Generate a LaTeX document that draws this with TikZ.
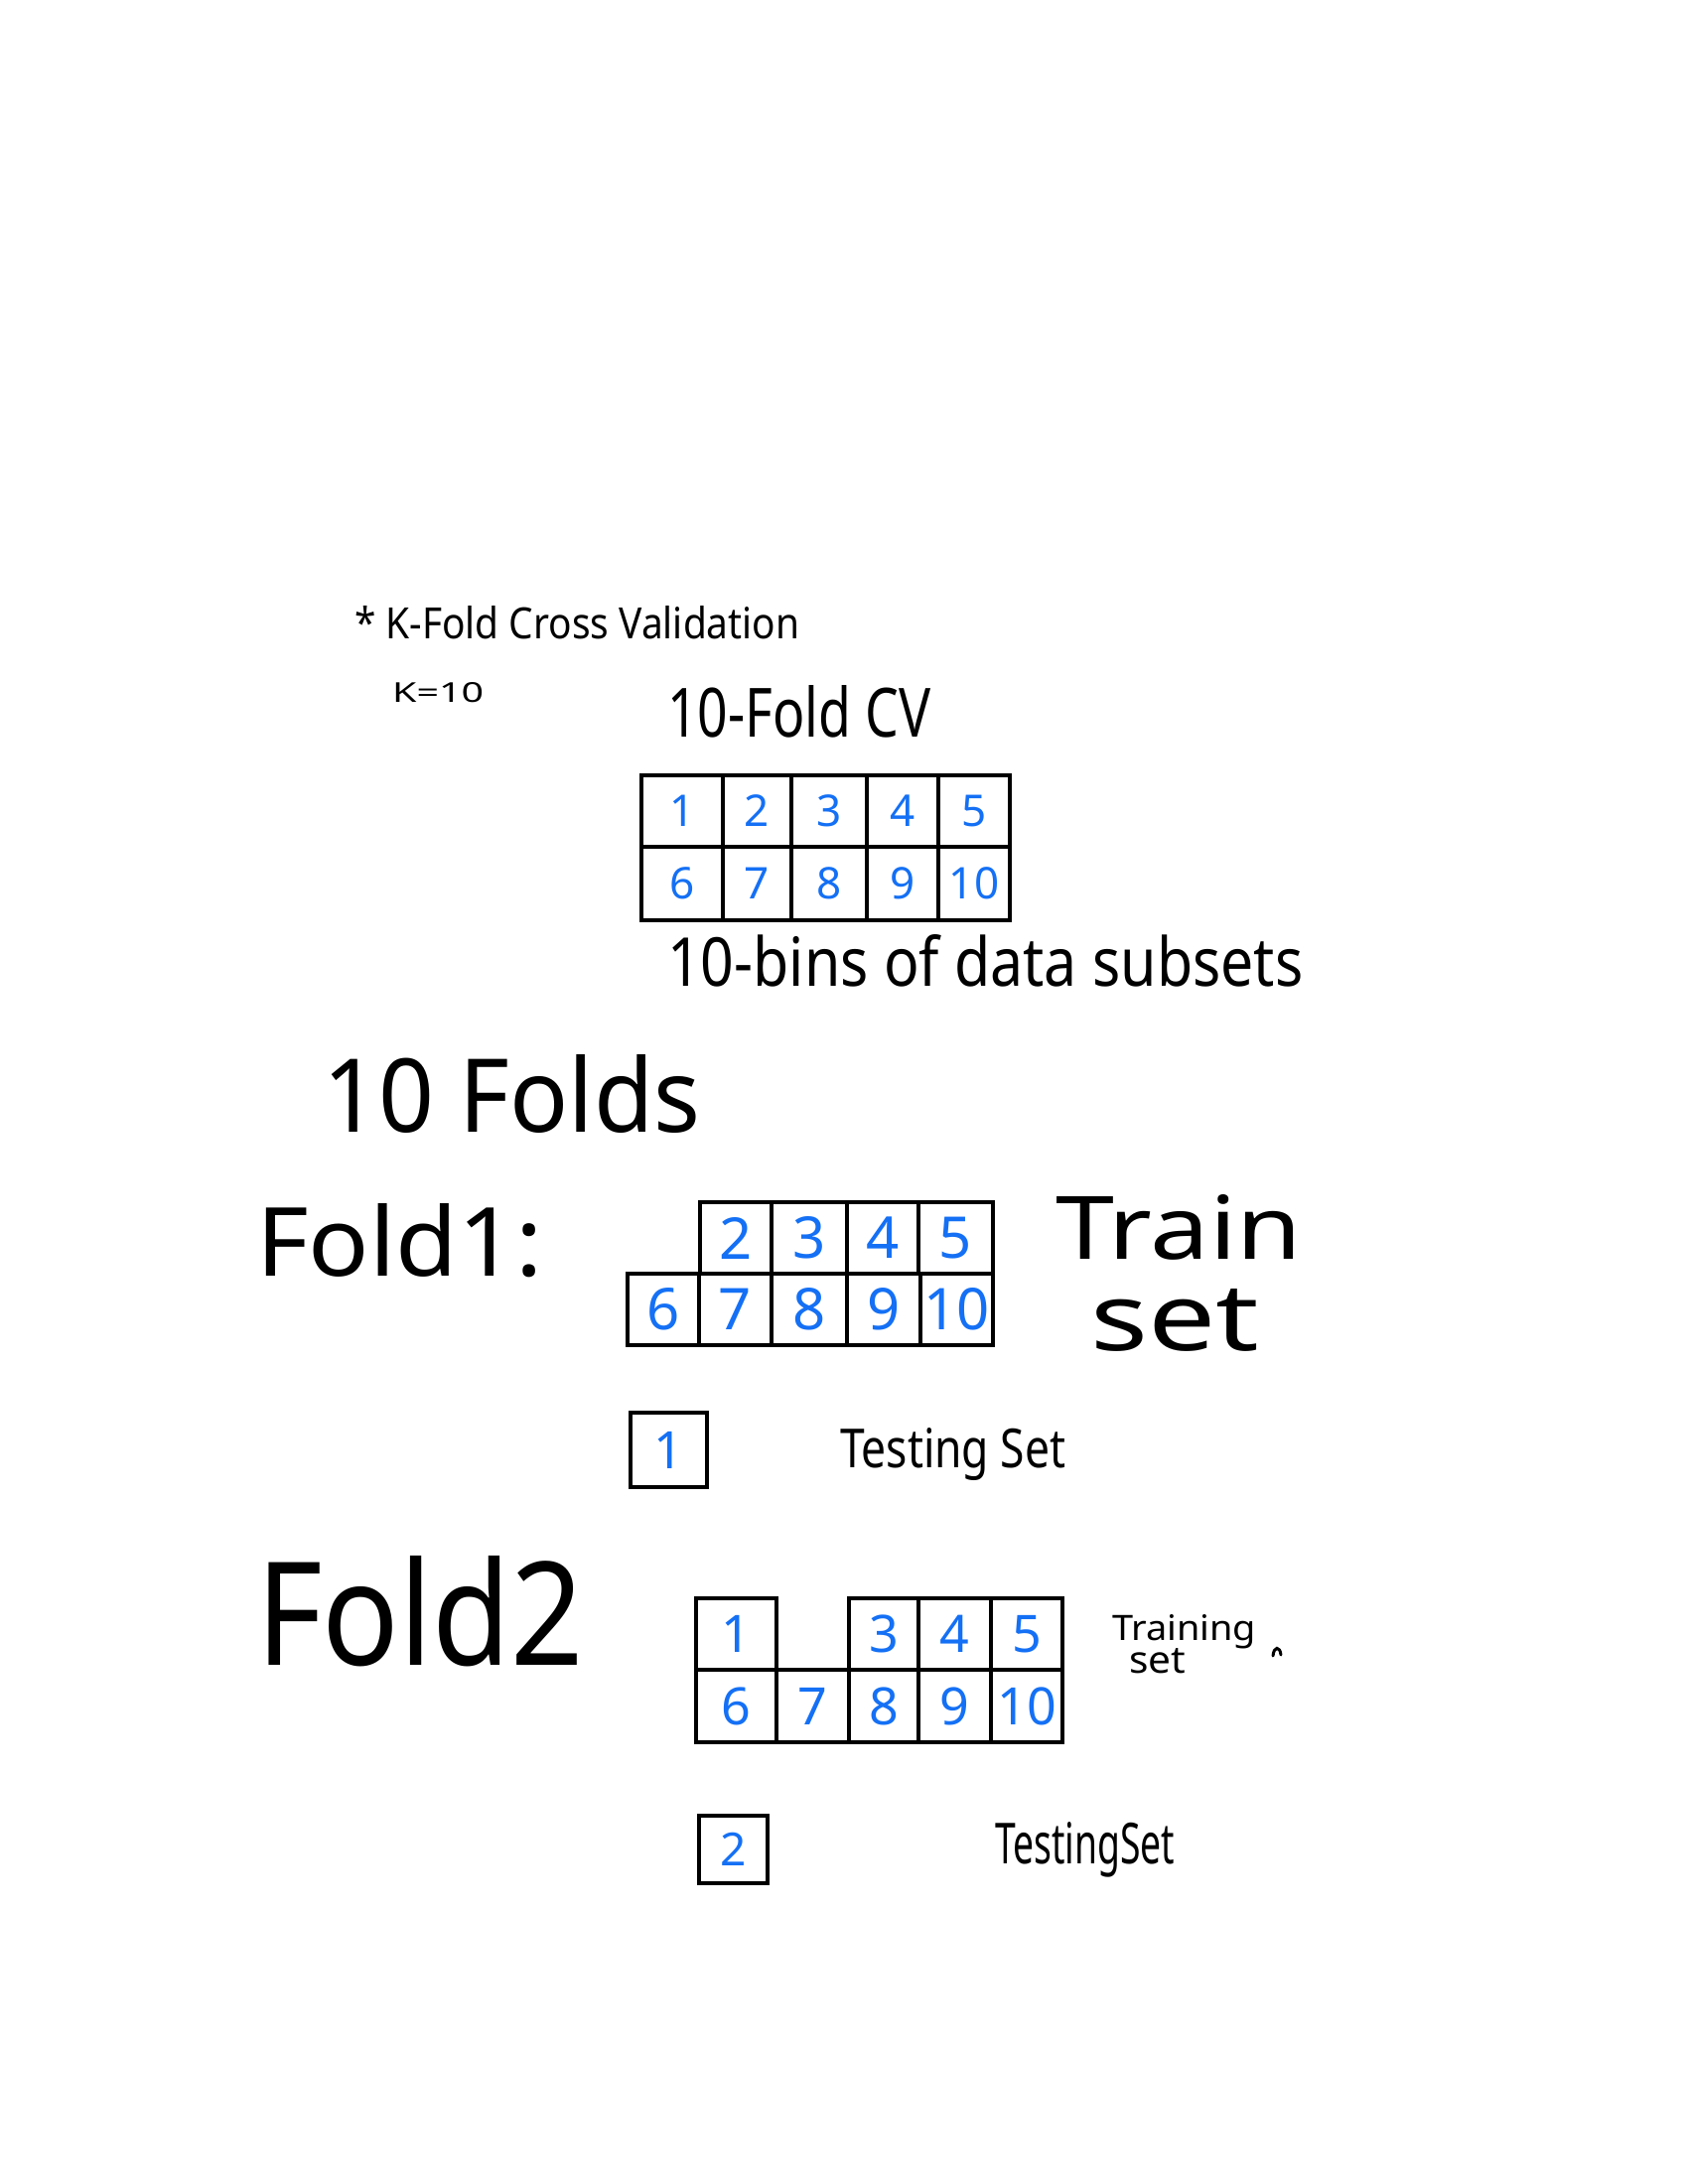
\documentclass[tikz,border=0pt]{standalone}
\usepackage{fontspec}
\usepackage{graphicx}
\setmainfont{Noto Sans}
\definecolor{numblue}{RGB}{20,112,245}
\newcommand\hwtxt[3]{\resizebox{#1pt}{#2pt}{#3}}
\tikzset{
  cell/.style={draw=black, line width=4.5pt, inner sep=0pt, text=numblue},
  hw/.style={inner sep=0pt, anchor=base west, text=black},
  gA/.style={font=\fontsize{44}{44}\selectfont},
  gB/.style={font=\fontsize{58}{58}\selectfont},
  gC/.style={font=\fontsize{52}{52}\selectfont},
  gD/.style={font=\fontsize{46}{46}\selectfont},
}
\begin{document}
\begin{tikzpicture}[x=1pt,y=-1pt]
\useasboundingbox (0,0) rectangle (1700,2200);
\fill[white] (0,0) rectangle (1700,2200);

% titles
\node[hw] (title) at (357,643) {\hwtxt{448}{33}{* K-Fold Cross Validation}};
\node[hw] (k) at (395,707) {\hwtxt{92}{20}{K=10}};
\node[hw] (tenfold) at (672,742) {\hwtxt{265}{52}{10-Fold CV}};

% grid 1
\node[cell,gA,minimum width=82pt,minimum height=72pt] (a1) at (687,817) {1};
\node[cell,gA,minimum width=69pt,minimum height=72pt] (a2) at (762.5,817) {2};
\node[cell,gA,minimum width=76pt,minimum height=72pt] (a3) at (835,817) {3};
\node[cell,gA,minimum width=72pt,minimum height=72pt] (a4) at (909,817) {4};
\node[cell,gA,minimum width=72pt,minimum height=72pt] (a5) at (981,817) {5};
\node[cell,gA,minimum width=82pt,minimum height=74pt] (a6) at (687,890) {6};
\node[cell,gA,minimum width=69pt,minimum height=74pt] (a7) at (762.5,890) {7};
\node[cell,gA,minimum width=76pt,minimum height=74pt] (a8) at (835,890) {8};
\node[cell,gA,minimum width=72pt,minimum height=74pt] (a9) at (909,890) {9};
\node[cell,gA,minimum width=72pt,minimum height=74pt] (a10) at (981,890) {10};

\node[hw] (bins) at (672,993) {\hwtxt{640}{52}{10-bins of data subsets}};

\node[hw] (tenfolds) at (325,1140) {\hwtxt{380}{78}{10 Folds}};

% fold 1
\node[hw] (fold1) at (258,1285) {\hwtxt{288}{73}{Fold1:}};
\node[cell,gB,minimum width=72pt,minimum height=72pt] (b2) at (741,1247) {2};
\node[cell,gB,minimum width=76pt,minimum height=72pt] (b3) at (815,1247) {3};
\node[cell,gB,minimum width=72pt,minimum height=72pt] (b4) at (889,1247) {4};
\node[cell,gB,minimum width=75pt,minimum height=72pt] (b5) at (962.5,1247) {5};
\node[cell,gB,minimum width=72pt,minimum height=72pt] (b6) at (668,1319) {6};
\node[cell,gB,minimum width=73pt,minimum height=72pt] (b7) at (740.5,1319) {7};
\node[cell,gB,minimum width=76pt,minimum height=72pt] (b8) at (815,1319) {8};
\node[cell,gB,minimum width=74pt,minimum height=72pt] (b9) at (890,1319) {9};
\node[cell,gB,minimum width=73pt,minimum height=72pt] (b10) at (963.5,1319) {10};
\node[hw] (train) at (1063,1268) {\hwtxt{248}{65}{Train}};
\node[hw] (set1) at (1098,1360) {\hwtxt{170}{62}{set}};

\node[cell,gC,minimum width=77pt,minimum height=75pt] (b1) at (673.5,1460.5) {1};
\node[hw] (test1) at (846,1478) {\hwtxt{227}{40}{Testing Set}};

% fold 2
\node[hw] (fold2) at (258,1677) {\hwtxt{330}{110}{Fold2}};
\node[cell,gC,minimum width=81pt,minimum height=72pt] (c1) at (741.5,1646) {1};
\node[cell,gC,minimum width=70pt,minimum height=72pt] (c3) at (890,1646) {3};
\node[cell,gC,minimum width=73pt,minimum height=72pt] (c4) at (961.5,1646) {4};
\node[cell,gC,minimum width=72pt,minimum height=72pt] (c5) at (1034,1646) {5};
\node[cell,gC,minimum width=81pt,minimum height=73pt] (c6) at (741.5,1718.5) {6};
\node[cell,gC,minimum width=73pt,minimum height=73pt] (c7) at (818.5,1718.5) {7};
\node[cell,gC,minimum width=70pt,minimum height=73pt] (c8) at (890,1718.5) {8};
\node[cell,gC,minimum width=73pt,minimum height=73pt] (c9) at (961.5,1718.5) {9};
\node[cell,gC,minimum width=72pt,minimum height=73pt] (c10) at (1034,1718.5) {10};
\node[hw] (training) at (1120,1652) {\hwtxt{145}{26}{Training}};
\node[hw] (set2) at (1137,1685) {\hwtxt{57}{25}{set}};
\draw[line width=3pt, line cap=round] (1282,1668) .. controls (1283,1658) and (1289,1658) .. (1290,1667);

\node[cell,gD,minimum width=69pt,minimum height=68pt] (c2) at (738.5,1863) {2};
\node[hw] (test2) at (1002,1877) {\hwtxt{181}{42}{TestingSet}};
\end{tikzpicture}
\end{document}
